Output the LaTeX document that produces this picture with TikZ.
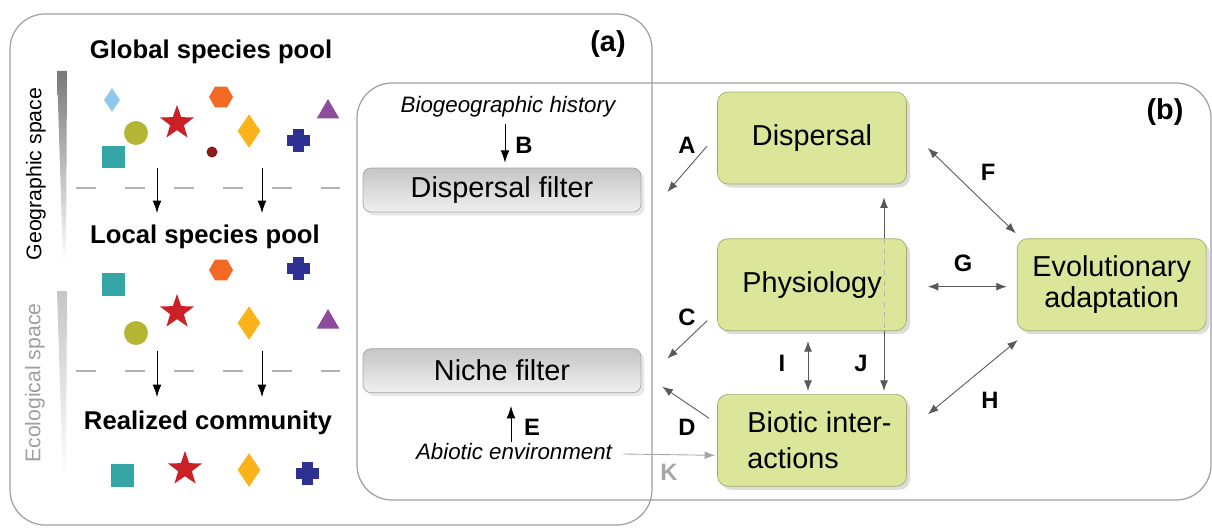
\documentclass[tikz,border=0pt]{standalone}
\usepackage{fontspec}
\setmainfont{Liberation Sans}
\usetikzlibrary{shapes.geometric, arrows.meta, positioning, shadows}

\definecolor{boxgreen}{HTML}{DCE69A}
\definecolor{boxborder}{HTML}{A2AC6A}
\definecolor{spteal}{HTML}{35A6A6}
\definecolor{spolive}{HTML}{B5B534}
\definecolor{spred}{HTML}{CC2027}
\definecolor{sporange}{HTML}{F26A24}
\definecolor{spdark}{HTML}{8B1A1A}
\definecolor{spgold}{HTML}{FBB31B}
\definecolor{spnavy}{HTML}{2E3192}
\definecolor{sppurple}{HTML}{8E4A9B}
\definecolor{spblue}{HTML}{8FC8EE}

\begin{document}
\begin{tikzpicture}[
    x=0.02cm, y=-0.02cm,
    panel/.style={draw=gray!75, line width=0.7pt, rounded corners=20pt},
    filterbox/.style={rectangle, draw=gray!70, rounded corners=4.5pt, top color=gray!45, bottom color=gray!12, minimum width=5.56cm, minimum height=0.88cm, font=\fontsize{16.4}{19}\selectfont, drop shadow={shadow xshift=2pt, shadow yshift=-2pt, fill=gray!35}},
    topic/.style={rectangle, draw=boxborder, fill=boxgreen, rounded corners=6pt, minimum width=3.78cm, minimum height=1.84cm, align=center, font=\fontsize{16.4}{17.5}\selectfont, drop shadow={shadow xshift=2pt, shadow yshift=-2pt, fill=gray!55}},
    title/.style={font=\bfseries\fontsize{14.6}{17}\selectfont},
    axislabel/.style={font=\fontsize{12.1}{14}\selectfont, rotate=90},
    driver/.style={font=\itshape\fontsize{12.7}{15}\selectfont, inner sep=0pt},
    letter/.style={font=\bfseries\fontsize{13.5}{16}\selectfont},
    panellabel/.style={font=\bfseries\fontsize{16.4}{19}\selectfont},
    link/.style={draw=black!65, line width=0.5pt, -{Latex[length=6pt, width=4.5pt]}},
    twoway/.style={link, {Latex[length=6pt, width=4.5pt]}-{Latex[length=6pt, width=4.5pt]}},
    sieve/.style={black, line width=0.5pt, -{Latex[length=7pt, width=5pt]}},
    split/.style={draw=gray!60, dash pattern=on 11.4pt off 16.5pt, line width=0.6pt},
    spsq/.style={rectangle, fill=spteal, minimum size=0.46cm, inner sep=0pt},
    spcirc/.style={circle, fill=#1, minimum size=0.48cm, inner sep=0pt},
    spstar/.style={star, star points=5, star point ratio=2.5, fill=spred, minimum size=0.72cm, inner sep=0pt},
    sphex/.style={regular polygon, regular polygon sides=6, fill=sporange, minimum size=0.48cm, inner sep=0pt},
    sptri/.style={regular polygon, regular polygon sides=3, fill=sppurple, minimum size=0.52cm, inner sep=0pt},
    spdia/.style={diamond, fill=#1, minimum width=0.46cm, minimum height=0.68cm, inner sep=0pt},
    spplus/.pic={\fill[spnavy] (-5.5,-11.5) rectangle (5.5,11.5); \fill[spnavy] (-11.5,-5.5) rectangle (11.5,5.5);}
]
    \useasboundingbox (0,0) rectangle (1212,530);

    % panels
    \draw[panel] (10,14) rectangle (652,525);
    \draw[panel] (357,83) rectangle (1211,500);
    \node[panellabel] (pa) at (608,44) {(a)};
    \node[panellabel] (pb) at (1165,112) {(b)};

    % left: species pools
    \shade[top color=gray!95!black, bottom color=white] (57,71) -- (67,71) -- (66,262) -- (63,262) -- cycle;
    \shade[top color=gray!45, bottom color=white] (57,291) -- (67,291) -- (66,480) -- (63,480) -- cycle;
    \node[axislabel] (geo) at (36,174) {Geographic space};
    \node[axislabel, text=gray!75] (eco) at (35,383) {Ecological space};

    \node[title] (global) at (211,52) {Global species pool};
    \node[spdia=spblue, minimum width=0.32cm, minimum height=0.48cm] (g1) at (112,100) {};
    \node[spcirc=spolive] (g2) at (136,133) {};
    \node[spsq] (g3) at (113,157) {};
    \node[spstar] (g4) at (177,123) {};
    \node[sphex] (g5) at (221,97) {};
    \node[spcirc=spdark, minimum size=0.22cm] (g6) at (212,152) {};
    \node[spdia=spgold] (g7) at (249,131) {};
    \pic (g8) at (298,141) {spplus};
    \node[sptri] (g9) at (328,112) {};

    \draw[split] (76,188) -- (340,188);
    \coordinate (ga1) at (157,168);
    \coordinate (gb1) at (157,213);
    \coordinate (ga2) at (262,168);
    \coordinate (gb2) at (262,213);
    \draw[sieve] (ga1) -- (gb1);
    \draw[sieve] (ga2) -- (gb2);

    \node[title] (local) at (205,237) {Local species pool};
    \node[sphex] (l1) at (221,270) {};
    \pic (l2) at (298,268) {spplus};
    \node[spsq] (l3) at (113,284) {};
    \node[spstar] (l4) at (177,312) {};
    \node[spdia=spgold] (l5) at (249,323) {};
    \node[sptri] (l6) at (328,322) {};
    \node[spcirc=spolive] (l7) at (136,333) {};

    \draw[split] (76,371) -- (340,371);
    \coordinate (la1) at (157,351);
    \coordinate (lb1) at (157,397);
    \coordinate (la2) at (262,351);
    \coordinate (lb2) at (262,397);
    \draw[sieve] (la1) -- (lb1);
    \draw[sieve] (la2) -- (lb2);

    \node[title] (real) at (208,423) {Realized community};
    \node[spsq] (r1) at (122,475) {};
    \node[spstar] (r2) at (185,469) {};
    \node[spdia=spgold] (r3) at (249,470) {};
    \pic (r4) at (307,473) {spplus};

    % middle: filters
    \node[driver] (biohist) at (508,107) {Biogeographic history};
    \node[filterbox] (dfilter) at (502,190) {Dispersal filter};
    \node[filterbox, below=2.72cm of dfilter] (nfilter) {Niche filter};
    \node[driver] (abiotic) at (514,452) {Abiotic environment};

    \draw[sieve] ([shift={(-3,6)}]biohist.south) -- ([shift={(3,-5)}]dfilter.north);
    \node[letter] (lB) at (524,145) {B};
    \draw[sieve] ([shift={(-3,-1)}]abiotic.north) -- ([shift={(9,13)}]nfilter.south);
    \node[letter] (lE) at (532,427) {E};

    % right: processes
    \node[topic] (disp) at (812,138) {Dispersal};
    \node[topic, below=1.08cm of disp] (phys) {Physiology};
    \node[topic, below=1.26cm of phys, align=left, font=\fontsize{16.4}{20.5}\selectfont] (biotic) {\hspace*{0.3cm}Biotic inter-\\\hspace*{0.3cm}actions};
    \node[topic, right=2.2cm of phys] (evo) {Evolutionary\\adaptation};

    \draw[link] ([shift={(-10,8)}]disp.west) -- ([shift={(26,2)}]dfilter.east);
    \node[letter] (lA) at (687,145) {A};
    \draw[link] ([shift={(-10,36)}]phys.west) -- ([shift={(26,-12)}]nfilter.east);
    \node[letter] (lC) at (687,317) {C};
    \draw[link] ([shift={(-8,-22)}]biotic.west) -- ([shift={(21,16)}]nfilter.east);
    \node[letter] (lD) at (687,427) {D};
    \draw[twoway] ([shift={(21,10)}]disp.east) -- ([shift={(-1,-5)}]evo.north west);
    \node[letter] (lF) at (988,172) {F};
    \draw[twoway] ([shift={(21,2)}]phys.east) -- ([shift={(-10,2)}]evo.west);
    \node[letter] (lG) at (963,263) {G};
    \draw[twoway] ([shift={(1,9)}]evo.south west) -- ([shift={(21,-26)}]biotic.east);
    \node[letter] (lH) at (990,400) {H};
    \draw[twoway] ([shift={(-4,10)}]phys.south) -- ([shift={(-4,-3)}]biotic.north);
    \node[letter] (lI) at (782,363) {I};
    \draw[link] ([shift={(72,0)}]phys.north) -- ([shift={(72,13)}]disp.south);
    \draw[draw=gray!60, dashed, line width=0.5pt] ([shift={(72,0)}]phys.north) -- ([shift={(72,0)}]phys.south);
    \draw[link] ([shift={(72,0)}]phys.south) -- ([shift={(72,-3)}]biotic.north);
    \node[letter] (lJ) at (861,363) {J};
    \draw[link, draw=gray!70, -{Latex[length=6pt, width=4.5pt, color=gray!70]}] ([shift={(11,2)}]abiotic.east) -- ([shift={(-2,15)}]biotic.west);
    \node[letter, text=gray!70] (lK) at (669,472) {K};
\end{tikzpicture}
\end{document}
